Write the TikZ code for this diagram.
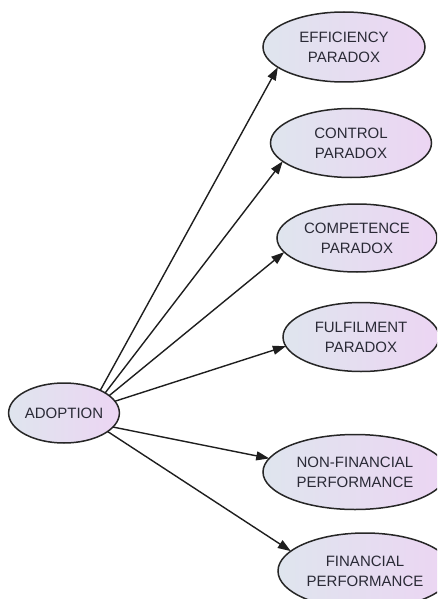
\documentclass[tikz,border=0pt]{standalone}
\usepackage{fontspec}
\setmainfont{Liberation Sans}
\usetikzlibrary{shapes.geometric,arrows.meta}
\definecolor{edgecol}{HTML}{1E1E1E}
\definecolor{rimcol}{HTML}{262626}
\definecolor{labelcol}{HTML}{2A2A36}
\definecolor{fillleft}{HTML}{DFE5EE}
\definecolor{fillright}{HTML}{ECD5F3}
\tikzset{
  concept/.style={ellipse, draw=rimcol, line width=1.5pt, inner sep=0pt, outer sep=0pt,
    shading=axis, left color=fillleft, right color=fillright, shading angle=90,
    text=labelcol, align=center,
    font=\fontsize{15}{20}\selectfont},
  link/.style={draw=edgecol, line width=1.4pt, -{Triangle[length=13pt,width=9pt]}}
}
\begin{document}
\begin{tikzpicture}[x=1pt,y=-1pt]
\useasboundingbox (0,0) rectangle (437,599);
\clip (0,0) rectangle (437,599);
\node[concept, minimum width=102pt, minimum height=60pt] (adoption) at (64,413) {ADOPTION};
\node[concept, minimum width=162pt, minimum height=70pt] (efficiency) at (344,47) {EFFICIENCY\\PARADOX};
\node[concept, minimum width=161pt, minimum height=69pt] (control) at (351,143) {CONTROL\\PARADOX};
\node[concept, minimum width=160pt, minimum height=68pt] (competence) at (357,238) {COMPETENCE\\PARADOX};
\node[concept, minimum width=156pt, minimum height=69pt] (fulfilment) at (361,337) {FULFILMENT\\PARADOX};
\node[concept, minimum width=184pt, minimum height=75pt] (nonfin) at (355,472) {NON-FINANCIAL\\PERFORMANCE};
\node[concept, minimum width=174pt, minimum height=76pt] (fin) at (365,571) {FINANCIAL\\PERFORMANCE};
\draw[link] (adoption.32) -- (efficiency.197);
\draw[link] (adoption.26) -- (control.195);
\draw[link] (adoption.21) -- (competence.191);
\draw[link] (adoption.13) -- (fulfilment.187);
\draw[link] (adoption.-16) -- (nonfin.171);
\draw[link] (adoption.-23) -- (fin.165);
\end{tikzpicture}
\end{document}
